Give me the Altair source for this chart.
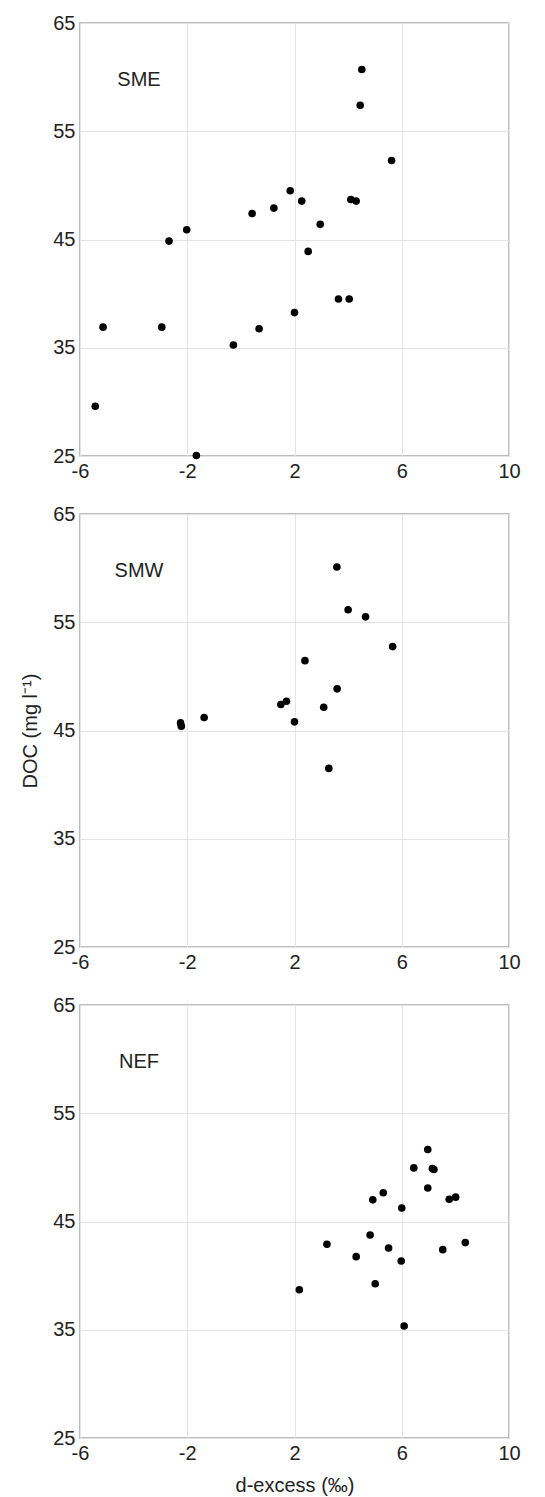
import altair as alt
import pandas as pd

# d-excess (‰) and DOC (mg l-1)
sme_x = [4.51, 4.45, 5.62, 1.84, 2.27, 4.10, 4.30, 1.23, 0.42, 2.96, -2.02, -2.68,
         2.51, 3.64, 4.04, 2.00, -5.14, -2.95, 0.68, -0.28, -5.43, -1.66]
sme_y = [60.7, 57.4, 52.3, 49.5, 48.55, 48.7, 48.55, 47.9, 47.4, 46.4, 45.9, 44.85,
         43.9, 39.5, 39.5, 38.25, 36.9, 36.9, 36.75, 35.25, 29.6, 25.05]

smw_x = [3.58, 4.00, 4.65, 5.66, 2.39, 3.59, 1.70, 1.49, 3.09, -1.37, 2.00, -2.25, -2.22, 3.28]
smw_y = [60.1, 56.15, 55.5, 52.75, 51.45, 48.85, 47.7, 47.4, 47.15, 46.2, 45.8, 45.7, 45.4, 41.5]

nef_x = [6.97, 6.45, 7.14, 7.20, 6.97, 5.31, 4.92, 7.77, 8.01, 6.00, 4.82, 3.21, 8.37,
         5.51, 7.53, 4.30, 5.98, 5.01, 2.18, 6.09]
nef_y = [51.65, 49.95, 49.9, 49.8, 48.1, 47.65, 47.0, 47.05, 47.25, 46.25, 43.75, 42.9, 43.05,
         42.55, 42.4, 41.75, 41.35, 39.25, 38.7, 35.35]

panels = ["SME", "SMW", "NEF"]
x_ticks = [-6, -2, 2, 6, 10]
y_ticks = [25, 35, 45, 55, 65]

FONT = "Liberation Sans"
TXT = "#222222"
W, H = 429, 433


def panel(xs, ys, name, ytitle, xtitle):
    df = pd.DataFrame({"x": xs, "y": ys})
    xaxis = alt.Axis(values=x_ticks, title=xtitle if xtitle else "",
                     labelExpr="'' + datum.value",
                     labelFlush=False, labelOverlap=False)
    yaxis = alt.Axis(values=y_ticks, title=ytitle if ytitle else "",
                     labelExpr="'' + datum.value", labelOverlap=False)
    pts = alt.Chart(df).mark_circle(size=58, color="black", opacity=1).encode(
        x=alt.X("x:Q", scale=alt.Scale(domain=[-6, 10], nice=False, zero=False), axis=xaxis),
        y=alt.Y("y:Q", scale=alt.Scale(domain=[25, 65], nice=False, zero=False), axis=yaxis),
    )
    lab = alt.Chart(pd.DataFrame({"t": [name]})).mark_text(
        align="center", baseline="middle", fontSize=20, font=FONT, color=TXT
    ).encode(x=alt.value(59), y=alt.value(56.5), text="t:N")
    return alt.layer(pts, lab).properties(width=W, height=H)


chart = alt.vconcat(
    panel(sme_x, sme_y, panels[0], None, None),
    panel(smw_x, smw_y, panels[1], "DOC (mg l⁻¹)", None),
    panel(nef_x, nef_y, panels[2], None, "d-excess (‰)"),
    spacing=58,
    bounds="flush",
).configure(
    background="white",
    padding={"left": 12, "top": 4, "right": 5, "bottom": 5},
).configure_view(
    stroke="#a8a8a8", strokeWidth=1.5
).configure_axis(
    labelFont=FONT, labelFontSize=20, labelColor=TXT, labelPadding=5,
    titleFont=FONT, titleFontSize=20, titleColor=TXT, titleFontWeight="normal",
    titlePadding=12, ticks=False, domain=False,
    grid=True, gridColor="#e4e4e4", gridWidth=1,
)

chart.save("out.html", embed_options={"renderer": "svg", "actions": False})
